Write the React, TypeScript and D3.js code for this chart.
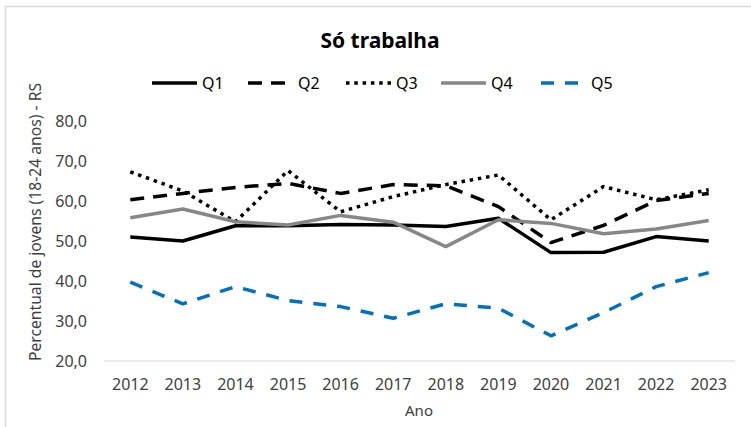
import * as d3 from "d3";

const years = ["2012", "2013", "2014", "2015", "2016", "2017", "2018", "2019", "2020", "2021", "2022", "2023"];
const q1 = [51.0, 50.0, 53.8, 53.8, 54.1, 54.0, 53.6, 55.7, 47.1, 47.2, 51.1, 50.0];
const q2 = [60.3, 61.9, 63.4, 64.4, 61.9, 64.1, 63.8, 58.6, 49.6, 53.9, 60.1, 61.9];
const q3 = [67.3, 62.5, 54.8, 67.6, 57.3, 61.1, 64.1, 66.5, 55.3, 63.6, 60.3, 62.8];
const q4 = [55.8, 58.0, 54.8, 54.0, 56.4, 54.7, 48.6, 55.3, 54.4, 51.8, 53.0, 55.1];
const q5 = [39.7, 34.3, 38.6, 35.1, 33.6, 30.7, 34.3, 33.2, 26.3, 32.1, 38.6, 42.1];
const yTicks = [20, 30, 40, 50, 60, 70, 80];

const series = [
  { name: "Q1", values: q1, color: "#000000", dash: "none" },
  { name: "Q2", values: q2, color: "#000000", dash: "14 9" },
  { name: "Q3", values: q3, color: "#000000", dash: "3.5 4.8" },
  { name: "Q4", values: q4, color: "#878787", dash: "none" },
  { name: "Q5", values: q5, color: "#0070C0", dash: "13 11" },
];

const legendX = [152, 248, 346, 441, 541];

const WIDTH = 751;
const HEIGHT = 427;
const FONT = "'Noto Sans', sans-serif";

export default function App() {
  const x = d3.scaleBand().domain(years).range([104, 735]);
  const y = d3.scaleLinear().domain([20, 80]).range([361, 121]);
  const cx = (d: string) => (x(d) ?? 0) + x.bandwidth() / 2;

  const line = d3
    .line<number>()
    .x((_, i) => cx(years[i]))
    .y((v) => y(v));

  return (
    <div style={{ position: "absolute", left: 0, top: 0 }}>
      <svg width={WIDTH} height={HEIGHT} style={{ display: "block", background: "#fff" }}>
        {/* outer frame edges */}
        <line x1={5} x2={WIDTH} y1={6.5} y2={6.5} stroke="#d9d9d9" strokeWidth={1.5} />
        <line x1={5.5} x2={5.5} y1={6} y2={HEIGHT} stroke="#d9d9d9" strokeWidth={1.5} />

        <text x={380} y={48} textAnchor="middle" fontFamily={FONT} fontWeight="bold" fontSize={21} fill="#000">
          Só trabalha
        </text>

        {series.map((s, i) => (
          <g key={s.name}>
            <line
              x1={legendX[i]}
              x2={legendX[i] + 45}
              y1={83}
              y2={83}
              stroke={s.color}
              strokeWidth={3.5}
              strokeDasharray={s.dash}
            />
            <text x={legendX[i] + 50} y={89} fontFamily={FONT} fontSize={16} fill="#000">
              {s.name}
            </text>
          </g>
        ))}

        {/* y ticks */}
        {yTicks.map((t) => (
          <text key={t} x={87} y={y(t) + 6} textAnchor="end" fontFamily={FONT} fontSize={16} fill="#404040">
            {d3.format(".1f")(t).replace(".", ",")}
          </text>
        ))}

        <text
          transform={`translate(41,${222}) rotate(-90)`}
          textAnchor="middle"
          fontFamily={FONT}
          fontSize={16}
          textLength={278}
          lengthAdjust="spacingAndGlyphs"
          fill="#404040"
        >
          Percentual de jovens (18-24 anos) - RS
        </text>

        {/* x axis */}
        <line x1={104} x2={735} y1={y(20)} y2={y(20)} stroke="#d9d9d9" strokeWidth={1} />
        {years.map((yr) => (
          <text key={yr} x={cx(yr)} y={390} textAnchor="middle" fontFamily={FONT} fontSize={16} fill="#404040">
            {yr}
          </text>
        ))}
        <text x={419} y={416} textAnchor="middle" fontFamily={FONT} fontSize={15} fill="#404040">
          Ano
        </text>

        {series.map((s) => (
          <path
            key={s.name}
            d={line(s.values) ?? ""}
            fill="none"
            stroke={s.color}
            strokeWidth={3.5}
            strokeDasharray={s.dash}
            strokeLinejoin="round"
          />
        ))}
      </svg>
    </div>
  );
}
